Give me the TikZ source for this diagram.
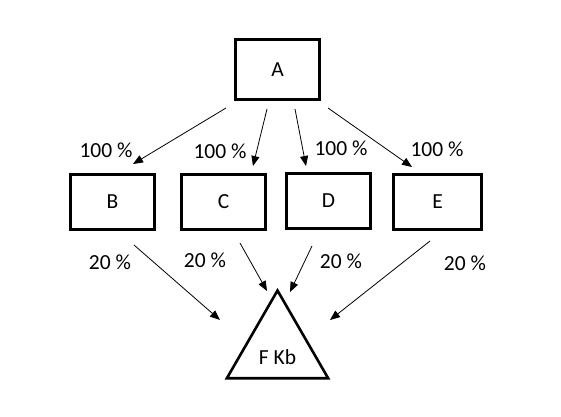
\documentclass[tikz,border=0pt]{standalone}
\usepackage{fontspec}
\setmainfont{Carlito}
\usetikzlibrary{arrows.meta,shapes.geometric}

\tikzset{
  box/.style={draw, line width=2.6pt, minimum width=84pt, minimum height=55pt, inner sep=0pt},
  tri/.style={draw, line width=2.6pt, regular polygon, regular polygon sides=3, minimum size=117pt, inner sep=0pt},
  arr/.style={-{Triangle[length=10pt,width=8pt]}, line width=0.8pt},
  pct/.style={inner sep=0pt}
}

\begin{document}
\begin{tikzpicture}[x=1pt, y=-1pt, font=\fontsize{21.5}{25}\selectfont]
\useasboundingbox (0,0) rectangle (561,416);

\node[box, minimum height=60pt] (A) at (277.5,69.5) {A};
\node[box] (B) at (112.5,202) {B};
\node[box] (C) at (223.5,202) {C};
\node[box] (D) at (328.5,201) {D};
\node[box, minimum width=88pt] (E) at (437.5,202) {E};
\node[tri] (F) at (277.5,349) {};
\node (Ftext) at ([yshift=-8pt]F.center) {F Kb};

% from A
\coordinate (ab-s) at (226,108); \coordinate (ab-e) at (133,164);
\coordinate (ac-s) at (267,109); \coordinate (ac-e) at (253,166);
\coordinate (ad-s) at (295,109); \coordinate (ad-e) at (306,166);
\coordinate (ae-s) at (328,108); \coordinate (ae-e) at (412,167);
\draw[arr] (ab-s) -- (ab-e);
\draw[arr] (ac-s) -- (ac-e);
\draw[arr] (ad-s) -- (ad-e);
\draw[arr] (ae-s) -- (ae-e);

% to F
\coordinate (bf-s) at (134,245); \coordinate (bf-e) at (220,320);
\coordinate (cf-s) at (240,243); \coordinate (cf-e) at (267,291);
\coordinate (df-s) at (312,246); \coordinate (df-e) at (290,292);
\coordinate (ef-s) at (430,241); \coordinate (ef-e) at (330,320);
\draw[arr] (bf-s) -- (bf-e);
\draw[arr] (cf-s) -- (cf-e);
\draw[arr] (df-s) -- (df-e);
\draw[arr] (ef-s) -- (ef-e);

\node[pct] (pab) at (106,150) {100 \%};
\node[pct] (pac) at (220,151) {100 \%};
\node[pct] (pad) at (341,148) {100 \%};
\node[pct] (pae) at (437,149) {100 \%};

\node[pct] (pbf) at (110,262) {20 \%};
\node[pct] (pcf) at (205,260) {20 \%};
\node[pct] (pdf) at (341,261) {20 \%};
\node[pct] (pef) at (465,263) {20 \%};
\end{tikzpicture}
\end{document}
